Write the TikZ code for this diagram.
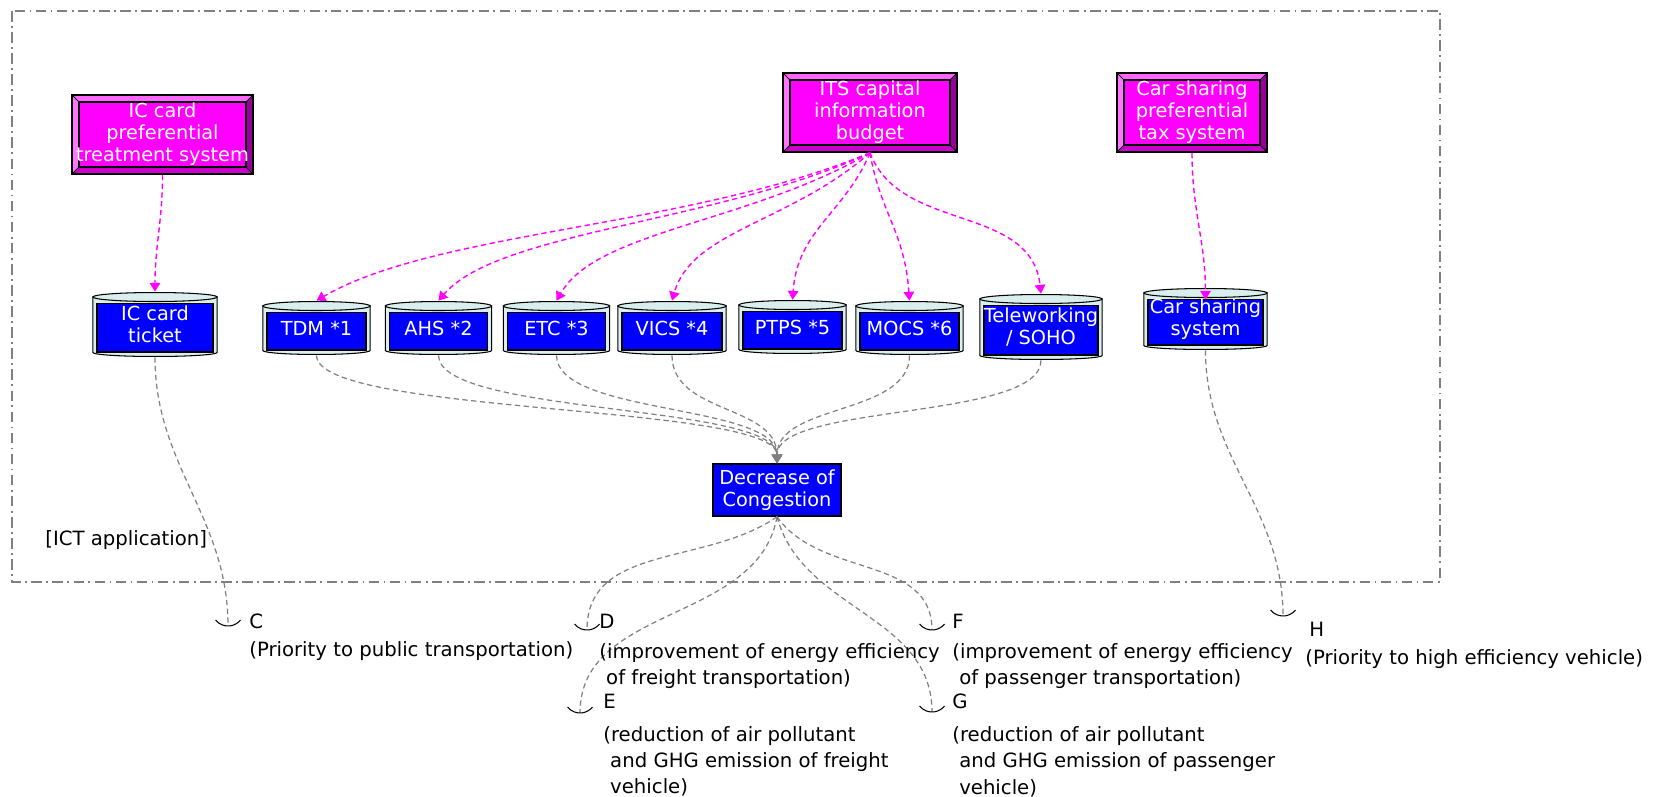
\documentclass[tikz,border=0pt]{standalone}
\usepackage{fontspec}
\setmainfont{DejaVu Sans}
\usetikzlibrary{calc,arrows.meta}
\definecolor{mag}{HTML}{FF00FF}
\definecolor{maglight}{HTML}{FF66FF}
\definecolor{magdark}{HTML}{990099}
\definecolor{magmid}{HTML}{CC00CC}
\definecolor{drumcyan}{HTML}{DAEEEE}
\definecolor{boxblue}{HTML}{0000FF}
\definecolor{linkgray}{HTML}{808080}
\def\boxfont{\fontsize{11}{12.5}\selectfont}
\def\txtfont{\fontsize{11.2}{14.8}\selectfont}
\def\bev{0.14cm}
\tikzset{
  policy/.style 2 args={minimum width=#1, minimum height=#2, inner sep=0pt,
    align=center, text=white, font=\boxfont, draw, line width=0.9pt, fill=mag,
    path picture={
      \coordinate (pa) at (path picture bounding box.south west);
      \coordinate (pb) at (path picture bounding box.north east);
      \fill[maglight] (pa|-pb) -- (pb) -- ($(pb)+(-\bev,-\bev)$) -- ($(pa|-pb)+(\bev,-\bev)$) -- cycle;
      \fill[maglight!90!white] (pa|-pb) -- (pa) -- ($(pa)+(\bev,\bev)$) -- ($(pa|-pb)+(\bev,-\bev)$) -- cycle;
      \fill[magdark] (pb) -- (pb|-pa) -- ($(pb|-pa)+(-\bev,\bev)$) -- ($(pb)+(-\bev,-\bev)$) -- cycle;
      \fill[magmid] (pa) -- (pb|-pa) -- ($(pb|-pa)+(-\bev,\bev)$) -- ($(pa)+(\bev,\bev)$) -- cycle;
      \draw[line width=0.7pt] ($(pa)+(\bev,\bev)$) rectangle ($(pb)+(-\bev,-\bev)$);
      \draw[line width=0.5pt] (pa) -- ++(\bev,\bev) (pb) -- ++(-\bev,-\bev)
        (pa|-pb) -- ++(\bev,-\bev) (pb|-pa) -- ++(-\bev,\bev);
    }},
  drum/.style 2 args={minimum width=#1, minimum height=#2, inner sep=0pt,
    align=center, text=white, font=\boxfont, fill=white,
    path picture={
      \coordinate (qa) at (path picture bounding box.south west);
      \coordinate (qb) at (path picture bounding box.north east);
      \filldraw[fill=drumcyan, line width=0.6pt] let \p1=(qa), \p2=(qb), \n1={(\x2-\x1)/2-0.5pt} in
        (\x1+0.5pt,\y2-0.1cm) -- (\x1+0.5pt,\y1+0.09cm)
        arc[start angle=180, end angle=360, x radius=\n1, y radius=0.08cm]
        -- (\x2-0.5pt,\y2-0.1cm) -- cycle;
      \filldraw[fill=drumcyan, line width=0.6pt] let \p1=(qa), \p2=(qb), \n1={(\x2-\x1)/2-0.5pt} in
        ({(\x1+\x2)/2},\y2-0.1cm) ellipse[x radius=\n1, y radius=0.09cm];
      \filldraw[fill=boxblue, line width=0.8pt] ($(qa)+(0.1cm,0.1cm)$) rectangle ($(qb)+(-0.1cm,-0.23cm)$);
    }},
  result/.style={fill=boxblue, draw, line width=0.8pt, text=white, font=\boxfont,
    align=center, minimum width=2.56cm, minimum height=1.04cm, inner sep=1pt},
  funding/.style={draw=mag, line width=0.8pt, dash pattern=on 3pt off 2pt,
    -{Triangle[length=5pt,width=6pt]}},
  effect/.style={draw=linkgray, line width=0.7pt, dash pattern=on 3pt off 2pt},
  outcome/.style={font=\txtfont, align=left, anchor=north west, inner sep=0pt},
  socket/.pic={\draw[line width=0.6pt] (0cm,0.32cm) ++(219:0.32cm) arc[start angle=219, end angle=321, radius=0.32cm];}
}

\begin{document}
\begin{tikzpicture}[x=0.02cm,y=-0.02cm]
    \useasboundingbox (0,0) rectangle (1666,797);
    \draw[linkgray, line width=0.9pt, dash pattern=on 6pt off 2.5pt on 1pt off 2.5pt] (12,11) rectangle (1440,582);

    \node[policy={3.62cm}{1.58cm}] (icpref) at (162.5,134.5) {IC card\\preferential\\treatment system};
    \node[policy={3.48cm}{1.58cm}] (its) at (870,112.5) {ITS capital\\information\\budget};
    \node[policy={3.0cm}{1.58cm}] (carpref) at (1192,112.5) {Car sharing\\preferential\\tax system};

    \node[drum={2.52cm}{1.30cm}] (icticket) at (155,324.5) {IC card\\ticket};
    \node[drum={2.18cm}{1.08cm}] (tdm) at (316.5,328) {TDM *1};
    \node[drum={2.16cm}{1.08cm}] (ahs) at (438.5,328) {AHS *2};
    \node[drum={2.16cm}{1.08cm}] (etc) at (556.5,328) {ETC *3};
    \node[drum={2.2cm}{1.08cm}] (vics) at (672,328) {VICS *4};
    \node[drum={2.18cm}{1.08cm}] (ptps) at (792.5,327) {PTPS *5};
    \node[drum={2.18cm}{1.08cm}] (mocs) at (909.5,328) {MOCS *6};
    \node[drum={2.48cm}{1.32cm}] (telew) at (1041,327) {Teleworking\\/ SOHO};
    \node[drum={2.5cm}{1.24cm}] (carsys) at (1205.5,319) {Car sharing\\system};

    \node[result] (dec) at (777,490) {Decrease of\\Congestion};

    \node[font=\txtfont, anchor=base west, inner sep=0pt] (ict) at (45,545) {[ICT application]};

    \coordinate (cC) at (228,626);
    \coordinate (cD) at (587,630);
    \coordinate (cE) at (580,713);
    \coordinate (cF) at (932,630);
    \coordinate (cG) at (932,712);
    \coordinate (cH) at (1283,616);

    \draw[funding] (icpref.south) to[out=-90,in=90] (icticket.north);
    \draw[funding] (its.south) .. controls +(-180,75) and +(120,-70) .. (tdm.north);
    \draw[funding] (its.south) .. controls +(-150,70) and +(60,-70) .. (ahs.north);
    \draw[funding] (its.south) .. controls +(-120,70) and +(40,-70) .. (etc.north);
    \draw[funding] (its.south) .. controls +(-80,70) and +(20,-70) .. (vics.north);
    \draw[funding] (its.south) .. controls +(-25,60) and +(5,-70) .. (ptps.north);
    \draw[funding] (its.south) .. controls +(10,60) and +(-5,-70) .. (mocs.north);
    \draw[funding] (its.south) .. controls +(30,80) and +(-10,-90) .. (telew.north);
    \draw[funding] (carpref.south) to[out=-90,in=90] ([yshift=-0.24cm]carsys.north);

    \foreach \src in {tdm,ahs,etc,vics,mocs,telew}
        \draw[effect, -{Triangle[length=5pt,width=6pt]}] (\src.south) to[out=-90,in=90,max distance=1.2cm] (dec.north);

    \draw[effect] (icticket.south) to[out=-90,in=90] (cC);
    \draw[effect] (dec.south) to[out=-145,in=90] (cD);
    \draw[effect] (dec.south) to[out=-100,in=90] (cE);
    \draw[effect] (dec.south) to[out=-55,in=90] (cF);
    \draw[effect] (dec.south) to[out=-75,in=90] (cG);
    \draw[effect] (carsys.south) to[out=-90,in=90] (cH);

    \foreach \c in {cC,cD,cE,cF,cG,cH}
        \pic at (\c) {socket};

    \node[outcome] (outC) at (249,614) {C\\[1pt](Priority to public transportation)};
    \node[outcome] (outD) at (599,614) {D\\[2pt](improvement of energy efficiency\\\hspace*{0.35em}of freight transportation)};
    \node[outcome] (outE) at (603,694) {E\\[4pt](reduction of air pollutant\\\hspace*{0.35em}and GHG emission of freight\\\hspace*{0.35em}vehicle)};
    \node[outcome] (outF) at (952,614) {F\\[2pt](improvement of energy efficiency\\\hspace*{0.35em}of passenger transportation)};
    \node[outcome] (outG) at (952,694) {G\\[4pt](reduction of air pollutant\\\hspace*{0.35em}and GHG emission of passenger\\\hspace*{0.35em}vehicle)};
    \node[outcome] (outH) at (1305,622) {\hspace*{0.2em}H\\[1pt](Priority to high efficiency vehicle)};
\end{tikzpicture}
\end{document}
